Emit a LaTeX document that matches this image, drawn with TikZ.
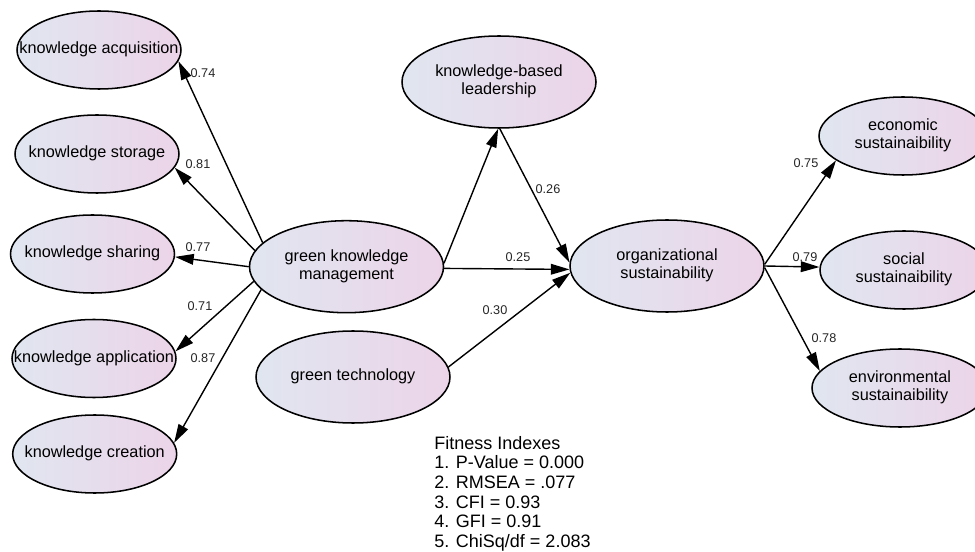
\documentclass[tikz,border=0pt]{standalone}
\usepackage{fontspec}
\setmainfont{Liberation Sans}
\usetikzlibrary{arrows.meta,shapes.geometric}
\definecolor{ellL}{RGB}{224,230,240}
\definecolor{ellR}{RGB}{236,212,232}
\newcommand{\zw}[1]{\makebox[0pt]{\begin{tabular}{@{}c@{}}#1\end{tabular}}}
\tikzset{
  ell/.style={ellipse, draw=black, line width=1.15pt, left color=ellL, right color=ellR,
    inner sep=0pt, font=\fontsize{12.2}{13.5}\selectfont},
  smallell/.style={ell, minimum width=123pt, minimum height=58.5pt},
  bigell/.style={ell, minimum width=145.5pt, minimum height=69pt},
  rightell/.style={ell, minimum width=126pt, minimum height=58.5pt},
  arr/.style={draw=black, line width=1.05pt, -{Triangle[length=14pt,width=8pt]}},
  lab/.style={font=\fontsize{9.5}{11}\selectfont, inner sep=0pt, text=black!85},
  fitnessbox/.style={font=\fontsize{13.5}{14.7}\selectfont, inner sep=0pt, align=left}
}
\begin{document}
\begin{tikzpicture}[x=0.75pt,y=-0.75pt]
\useasboundingbox (0,0) rectangle (975,552);
\fill[white] (0,0) rectangle (975,552);
\clip (0,0) rectangle (975,552);

% nodes
\node[smallell] (acq) at (99,50) {\zw{knowledge acquisition}};
\node[smallell] (st) at (97,154) {\zw{knowledge storage}};
\node[smallell] (sh) at (92.5,254) {\zw{knowledge sharing}};
\node[smallell] (ap) at (94,358.5) {\zw{knowledge application}};
\node[smallell] (cr) at (94.7,454) {\zw{knowledge creation}};
\node[bigell] (gkm) at (346.5,266.7) {\zw{green knowledge\\management}};
\node[bigell] (gt) at (353,377) {\zw{green technology}};
\node[bigell] (kbl) at (499,82) {\zw{knowledge-based\\leadership}};
\node[bigell] (org) at (667,266) {\zw{organizational\\sustainability}};
\node[rightell] (eco) at (903,136) {\zw{economic\\sustainaibility}};
\node[rightell] (soc) at (904,270) {\zw{social\\sustainaibility}};
\node[rightell, minimum width=132pt] (env) at (900,388) {\zw{environmental\\sustainaibility}};

% connectors
\draw[arr] (gkm.164) -- (acq.-8);
\draw[arr] (gkm.170) -- (st.-10);
\draw[arr] (gkm.180) -- (sh.-2);
\draw[arr] (gkm.189) -- (ap.5);
\draw[arr] (gkm.195) -- (cr.8);
\draw[arr] (gkm.2) -- (kbl.-91);
\draw[arr] (kbl.-89) -- (org.178);
\draw[arr] (gkm.-1) -- (org.182);
\draw[arr] (gt.6) -- (org.184);
\draw[arr] (org.1) -- (eco.200);
\draw[arr] (org.0) -- (soc.178);
\draw[arr] (org.-1) -- (env.168);

% labels
\node[lab] (l74) at (203,73) {0.74};
\node[lab] (l81) at (198,164) {0.81};
\node[lab] (l77) at (198,247) {0.77};
\node[lab] (l71) at (200,306) {0.71};
\node[lab] (l87) at (203,358) {0.87};
\node[lab] (l26) at (548,189) {0.26};
\node[lab] (l25) at (518,257) {0.25};
\node[lab] (l30) at (495,310) {0.30};
\node[lab] (l75) at (806,163) {0.75};
\node[lab] (l79) at (805,257) {0.79};
\node[lab] (l78) at (824,338) {0.78};

% fitness indexes
\node[fitnessbox, anchor=north west] (fitidx) at (434,436) {Fitness Indexes\\1. P-Value = 0.000\\2. RMSEA = .077\\3. CFI = 0.93\\4. GFI = 0.91\\5. ChiSq/df = 2.083};
\end{tikzpicture}
\end{document}
